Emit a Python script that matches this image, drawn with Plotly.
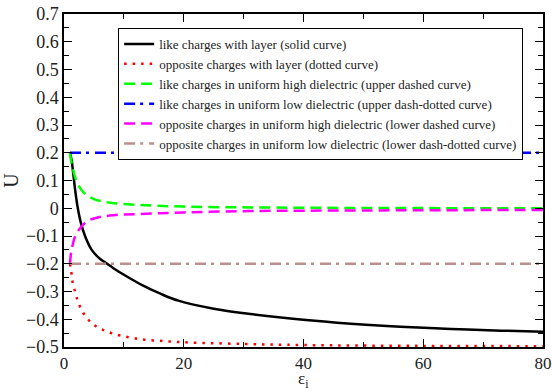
import plotly.graph_objects as go

# ---- data ----
eps_black = [1.0, 1.29, 1.56, 1.84, 2.23, 2.79, 3.51, 4.63, 6.0, 7.2, 8.25, 10.5, 13.3, 16.1, 19.1,
             25.0, 31.1, 39.5, 47.9, 56.2, 64.6, 73.0, 80.0]
u_black = [0.2, 0.17, 0.122, 0.07, 0.01, -0.05, -0.1, -0.15, -0.182, -0.2, -0.216, -0.246,
           -0.28, -0.308, -0.333, -0.362, -0.381, -0.401, -0.416, -0.427, -0.435, -0.441, -0.445]

eps_red = [1.0, 1.12, 1.28, 1.45, 1.84, 2.23, 2.79, 3.51, 4.46, 5.63, 6.92, 8.25, 9.65, 11.1, 12.55,
           13.9, 15.4, 16.9, 18.3, 20.0, 30.0, 40.0, 60.0, 80.0]
u_red = [-0.2, -0.215, -0.24, -0.268, -0.3, -0.33, -0.36, -0.387, -0.41, -0.429, -0.442, -0.452,
         -0.46, -0.466, -0.471, -0.475, -0.477, -0.479, -0.481, -0.483, -0.489, -0.493, -0.496, -0.497]

eps_green = [1.0, 1.2, 1.45, 2.12, 3.23, 4.9, 7.7, 12.2, 20.0, 31.0, 50.0, 80.0]
u_green = [0.2, 0.17, 0.145, 0.096, 0.058, 0.034, 0.02, 0.012, 0.006, 0.003, 0.001, 0.0]

eps_magenta = [1.0, 1.15, 1.39, 1.84, 2.68, 3.79, 5.47, 8.25, 12.2, 20.0, 31.0, 50.0, 80.0]
u_magenta = [-0.2, -0.165, -0.138, -0.102, -0.072, -0.048, -0.034, -0.025, -0.021, -0.015, -0.01,
             -0.008, -0.006]

eps_flat = [1.0, 80.0]
u_blue = [0.2, 0.2]
u_brown = [-0.2, -0.2]

names = [
    "like charges with layer (solid curve)",
    "opposite charges with layer (dotted curve)",
    "like charges in uniform high dielectric (upper dashed curve)",
    "like charges in uniform low dielectric (upper dash-dotted curve)",
    "opposite charges in uniform high dielectric (lower dashed curve)",
    "opposite charges in uniform low dielectric (lower dash-dotted curve)",
]
x_title = "ε<sub>i</sub>"
y_title = "U"

FONT = "Liberation Serif"

fig = go.Figure()
fig.add_trace(go.Scatter(x=eps_black, y=u_black, mode="lines", name=names[0], line_shape="spline",
                         line=dict(color="black", width=2.5)))
fig.add_trace(go.Scatter(x=eps_red, y=u_red, mode="lines", name=names[1], line_shape="spline",
                         line=dict(color="red", width=2.5, dash="2.5px,6px")))
fig.add_trace(go.Scatter(x=eps_green, y=u_green, mode="lines", name=names[2], line_shape="spline",
                         line=dict(color="#00ff00", width=2.5, dash="11px,6px")))
fig.add_trace(go.Scatter(x=eps_flat, y=u_blue, mode="lines", name=names[3],
                         line=dict(color="blue", width=2.5, dash="11px,5px,3px,6px")))
fig.add_trace(go.Scatter(x=eps_magenta, y=u_magenta, mode="lines", name=names[4], line_shape="spline",
                         line=dict(color="magenta", width=2.5, dash="11px,6px")))
fig.add_trace(go.Scatter(x=eps_flat, y=u_brown, mode="lines", name=names[5],
                         line=dict(color="#bc8f8f", width=2.5, dash="11px,5px,3px,6px")))

axis_common = dict(
    showline=True, linecolor="black", linewidth=1.5, mirror="ticks",
    ticks="inside", ticklen=8, tickwidth=1.2, tickcolor="black",
    showgrid=False, zeroline=False, automargin=False,
    ticklabeloverflow="allow",
)

fig.update_xaxes(range=[0, 80], dtick=20, tick0=0, ticklabelstandoff=0,
                 tickfont=dict(family=FONT, size=17, color="#222"),
                 minor=dict(dtick=10, ticks="inside", ticklen=5, tickcolor="black", tickwidth=1.2),
                 **axis_common)
fig.update_yaxes(range=[-0.5, 0.7], dtick=0.1, tick0=0,
                 tickfont=dict(family=FONT, size=18, color="#222"),
                 minor=dict(dtick=0.05, ticks="inside", ticklen=5, tickcolor="black", tickwidth=1.2),
                 title=dict(text=y_title, font=dict(family=FONT, size=20, color="#222"), standoff=4),
                 **axis_common)

fig.add_annotation(text=x_title, xref="paper", yref="paper", x=0.5, y=-0.135,
                   xanchor="center", yanchor="bottom", showarrow=False, borderpad=0,
                   font=dict(family=FONT, size=17, color="#222"))

fig.update_layout(
    width=552, height=392,
    margin=dict(l=64, r=9, t=14, b=45),
    paper_bgcolor="white", plot_bgcolor="white",
    font=dict(family=FONT, color="#222"),
    showlegend=True,
    legend=dict(x=0.113, y=0.958, xanchor="left", yanchor="top",
                bgcolor="white", bordercolor="black", borderwidth=1,
                font=dict(family=FONT, size=13, color="#222"),
                itemwidth=30, tracegroupgap=0),
)

fig.write_html("out.html")
